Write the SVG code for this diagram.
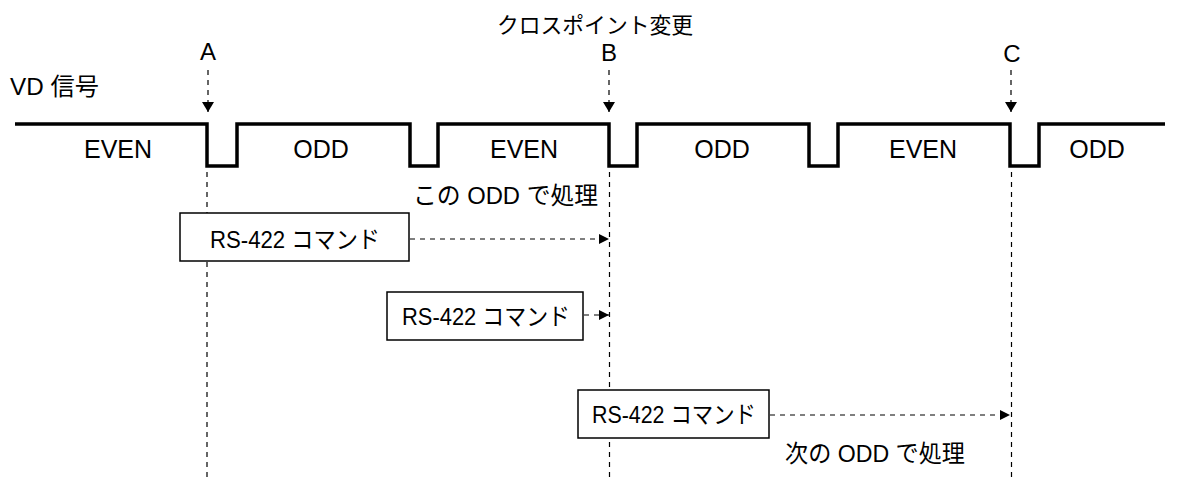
<svg xmlns="http://www.w3.org/2000/svg" width="1192" height="479" viewBox="0 0 1192 479">
<style>
text{font-family:"Liberation Sans","Noto Sans CJK JP",sans-serif;font-size:24px;fill:#000}
.mid{text-anchor:middle}
.fld{font-size:25px}
.wave{fill:none;stroke:#000;stroke-width:3.5;stroke-linejoin:miter}
.dash{stroke:#000;stroke-width:1.2;stroke-dasharray:5,5;fill:none}
.box{fill:#fff;stroke:#000;stroke-width:1.5}
</style>
<defs>
<marker id="ah" viewBox="0 0 10 10" refX="10" refY="5" markerWidth="10" markerHeight="10" markerUnits="userSpaceOnUse" orient="auto">
<path d="M0,0 L10,5 L0,10 Z" fill="#000"/>
</marker>
<marker id="ahd" viewBox="0 0 10 12" refX="10" refY="6" markerWidth="10" markerHeight="12" markerUnits="userSpaceOnUse" orient="auto">
<path d="M0,0 L10,6 L0,12 Z" fill="#000"/>
</marker>
</defs>
<g id="title"><text x="497" y="33" style="font-size:22px" textLength="196" lengthAdjust="spacingAndGlyphs">クロスポイント変更</text></g>
<g id="vd-label"><text x="10" y="95" textLength="89" lengthAdjust="spacingAndGlyphs">VD 信号</text></g>
<g id="markers">
<text class="mid" x="208" y="60">A</text>
<text class="mid" x="609" y="61">B</text>
<text class="mid" x="1012" y="62">C</text>
</g>
<g id="waveform">
<path class="wave" d="M15,124 H207 V166 H237 V124 H410 V166 H438 V124 H609 V166 H637 V124 H809 V166 H838 V124 H1010 V166 H1039 V124 H1165"/>
</g>
<g id="field-labels">
<text class="mid fld" x="118" y="158">EVEN</text>
<text class="mid fld" x="321" y="158">ODD</text>
<text class="mid fld" x="524" y="158">EVEN</text>
<text class="mid fld" x="722" y="158">ODD</text>
<text class="mid fld" x="923" y="158">EVEN</text>
<text class="mid fld" x="1097" y="158">ODD</text>
</g>
<g id="connectors">
<line class="dash" x1="208" y1="70" x2="208" y2="112" marker-end="url(#ahd)"/>
<line class="dash" x1="609" y1="70" x2="609" y2="112" marker-end="url(#ahd)"/>
<line class="dash" x1="1011" y1="70" x2="1011" y2="112" marker-end="url(#ahd)"/>
<line class="dash" x1="207" y1="172" x2="207" y2="479"/>
<line class="dash" x1="609.5" y1="172" x2="609.5" y2="479"/>
<line class="dash" x1="1011.5" y1="172" x2="1011.5" y2="479"/>
<line class="dash" x1="410" y1="239" x2="609" y2="239" marker-end="url(#ah)"/>
<line class="dash" x1="584" y1="315" x2="609" y2="315" marker-end="url(#ah)"/>
<line class="dash" x1="770" y1="415" x2="1010" y2="415" marker-end="url(#ah)"/>
</g>
<g id="cmd1">
<rect class="box" x="180" y="213" width="229" height="48"/>
<text x="210" y="248" textLength="170" lengthAdjust="spacingAndGlyphs">RS-422 コマンド</text>
</g>
<g id="cmd2">
<rect class="box" x="387" y="292" width="196" height="48"/>
<text x="402" y="325" textLength="168" lengthAdjust="spacingAndGlyphs">RS-422 コマンド</text>
</g>
<g id="cmd3">
<rect class="box" x="578" y="390" width="191" height="48"/>
<text x="592" y="423" textLength="164" lengthAdjust="spacingAndGlyphs">RS-422 コマンド</text>
</g>
<g id="notes">
<text x="413" y="204" textLength="185" lengthAdjust="spacingAndGlyphs">この ODD で処理</text>
<text x="785" y="462" textLength="180" lengthAdjust="spacingAndGlyphs">次の ODD で処理</text>
</g>
</svg>
